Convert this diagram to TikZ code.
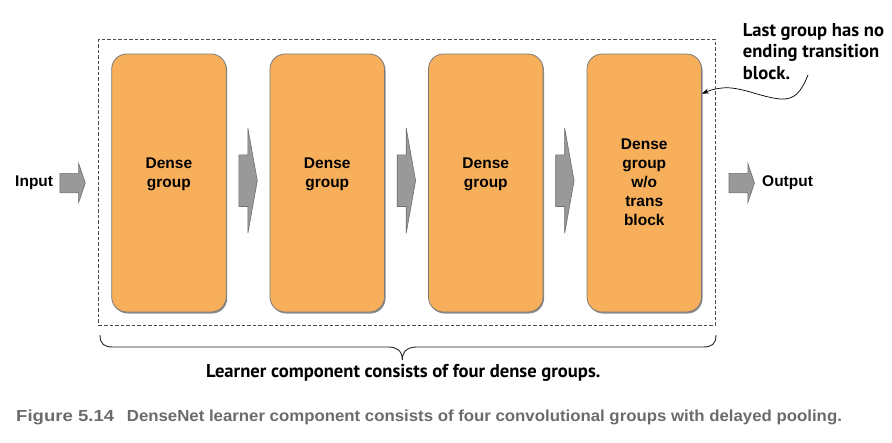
\documentclass[tikz,border=0pt]{standalone}
\usepackage{fontspec}
\setmainfont{Liberation Sans}
\newfontfamily\annfont{PT Sans}
\newfontfamily\capfont[FakeStretch=1.05]{Liberation Sans}
\newfontfamily\capfigfont[FakeStretch=1.16]{Liberation Sans}
\usetikzlibrary{arrows.meta,calc,shadows}
\definecolor{boxfill}{HTML}{F7AF5B}
\definecolor{boxline}{HTML}{7A7A7A}
\definecolor{arrfill}{HTML}{999999}
\definecolor{arrline}{HTML}{6E6E6E}
\definecolor{capcol}{HTML}{6B6B6E}
\tikzset{
  group/.style={draw=boxline,line width=0.8pt,fill=boxfill,rounded corners=15pt,
    minimum width=114.5pt,minimum height=258pt,inner sep=0pt,
    drop shadow={shadow xshift=1pt,shadow yshift=-1.5pt,fill=black!45,opacity=1}},
  grouptext/.style={font=\bfseries\fontsize{15.5}{19.2}\selectfont,align=center,text=black,inner sep=0pt},
  iotext/.style={font=\bfseries\fontsize{15.5}{19}\selectfont,inner sep=0pt},
  anntext/.style={font=\annfont\bfseries\fontsize{18.6}{21.5}\selectfont,inner sep=0pt,align=left},
  captext/.style={font=\capfont\bfseries\fontsize{16}{18}\selectfont,text=capcol,inner sep=0pt},
  capfigtext/.style={font=\capfigfont\bfseries\fontsize{16}{18}\selectfont,text=capcol,inner sep=0pt},
  blockarrow/.style={draw=arrline,fill=arrfill,line width=0.6pt},
  bigarrow/.pic={\path[blockarrow] (-18.4,-25.8) -- (-9.4,-25.8) -- (-9.4,-52.5) -- (0,0)
      -- (-9.4,52.5) -- (-9.4,25.8) -- (-18.4,25.8) -- cycle;},
  smallarrow/.pic={\path[blockarrow] (-25.5,-9.7) -- (-6.7,-9.7) -- (-6.7,-19.7) -- (0,0)
      -- (-6.7,19.7) -- (-6.7,9.7) -- (-25.5,9.7) -- cycle;},
}
\begin{document}
\begin{tikzpicture}[x=1pt,y=-1pt]
\useasboundingbox (0,0) rectangle (892,442);
% dashed learner frame
\node (learner) [draw=black!70,line width=0.7pt,dash pattern=on 3.5pt off 2pt,
  minimum width=616.3pt,minimum height=286.2pt,inner sep=0pt] at (406.85,182.4) {};
% groups
\node (g1) [group] at (168.95,183) {};
\node (g2) [group] at (327.25,183) {};
\node (g3) [group] at (485.75,183) {};
\node (g4) [group] at (644.25,183) {};
\node (t1) [grouptext] at ($(g1.center)+(0,-8.5)$) {Dense\\group};
\node (t2) [grouptext] at ($(g2.center)+(0,-8.5)$) {Dense\\group};
\node (t3) [grouptext] at ($(g3.center)+(0,-8.5)$) {Dense\\group};
\node (t4) [grouptext] at ($(g4.center)+(0,-0.8)$) {Dense\\group\\w/o\\trans\\block};
% arrows between groups
\path ($(g1.east)+(30.7,-2.3)$) pic {bigarrow};
\path ($(g2.east)+(30.7,-2.3)$) pic {bigarrow};
\path ($(g3.east)+(30.7,-2.3)$) pic {bigarrow};
% input / output
\node (in) [iotext,anchor=east] at (53.3,183) {Input};
\path ($(g1.west)+(-26,0)$) pic {smallarrow};
\path ($(g4.east)+(52.6,0)$) pic {smallarrow};
\node (out) [iotext,anchor=west] at (762,183) {Output};
% annotation
\node (ann) [anntext,anchor=base west] at (742.7,79) {Last group has no\\ending transition\\block.};
\coordinate (cstart) at (808,75);
\coordinate (cend) at ($(g4.north east)+(0,40)$);
\draw[line width=0.7pt,-{Stealth[length=7pt,width=5pt]}] (cstart)
  .. controls (801,92) and (795,100) .. (780,99)
  .. controls (760,97) and (740,86) .. (722,88)
  .. controls (712,89) and (706,92) .. (cend);
% brace
\coordinate (bl) at (100,335);
\coordinate (br) at (716,335);
\coordinate (btip) at (402.3,360);
\draw[line width=0.9pt,black!85] (bl)
  .. controls (100,344) and (104,347) .. (113,347) -- (388,347)
  .. controls (396,347) and (402.3,350) .. (btip)
  .. controls (402.3,350) and (409,347) .. (417,347) -- (703,347)
  .. controls (712,347) and (716,344) .. (br);
\node (lname) [anntext,anchor=base] at (403.3,377) {Learner component consists of four dense groups.};
% caption
\node (capfig) [capfigtext,anchor=base west] at (16,421) {Figure 5.14};
\node (captxt) [captext,anchor=base west] at (126.7,421) {DenseNet learner component consists of four convolutional groups with delayed pooling.};
\end{tikzpicture}
\end{document}
